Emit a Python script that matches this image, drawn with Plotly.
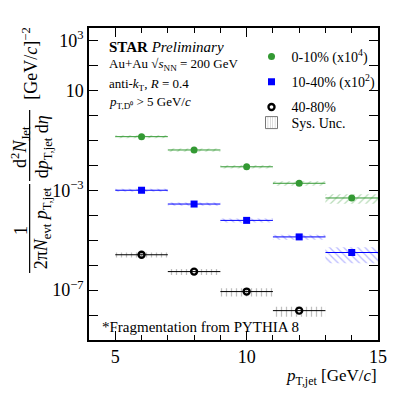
import plotly.graph_objects as go

# jet pT bins (GeV/c)
pt = [6, 8, 10, 12, 14]
pt_halfwidth = [1, 1, 1, 1, 1]

# 0-10% (x10^4)
y_0_10 = [0.14, 0.041, 0.0087, 0.0019, 4.9e-4]
sys_0_10 = [0.02, 0.006, 0.0013, 0.0004, 2.0e-4]

# 10-40% (x10^2)
y_10_40 = [1.0e-3, 2.8e-4, 6.2e-5, 1.35e-5, 3.2e-6]
sys_10_40 = [1.4e-4, 4.0e-5, 1.1e-5, 3.0e-6, 2.0e-6]

# 40-80%
pt_40_80 = [6, 8, 10, 12]
y_40_80 = [2.6e-6, 5.5e-7, 8.7e-8, 1.5e-8]
sys_40_80 = [6.0e-7, 1.5e-7, 3.2e-8, 6.5e-9]

ytick_vals = [1e3, 10, 1e-3, 1e-7]
ytick_text = ["10<sup>3</sup>", "10", "10<sup>\u22123</sup>", "10<sup>\u22127</sup>"]
ydecades = [10.0 ** k for k in range(-9, 4)]

GREEN = "#339933"
BLUE = "#0000ff"
BLACK = "#000000"
FONT = "Liberation Serif"

# the page body keeps its default 8px margin, so the figure sits at (8, 8)
OFF = 8
W, H = 407 - 2 * OFF, 396 - 2 * OFF
# frame in page pixels: x 89..386, y 28..340
ML, MT = 89 - OFF, 28 - OFF
MR, MB = (OFF + W) - 386, (OFF + H) - 340
PW, PH = W - ML - MR, H - MT - MB


def px(x):
    return (x - 89) / PW


def py(y):
    return (340 - y) / PH


fig = go.Figure()

# systematic boxes
series = [
    (pt, y_0_10, sys_0_10, "rgba(51,153,51,0.7)", "/"),
    (pt, y_10_40, sys_10_40, "rgba(0,0,255,0.55)", "\\"),
    (pt_40_80, y_40_80, sys_40_80, "rgba(0,0,0,0.5)", "|"),
]
for xs, ys, ss, col, shp in series:
    fig.add_trace(go.Bar(
        x=xs, y=[2 * s for s in ss], base=[v - s for v, s in zip(ys, ss)],
        width=[2 * w for w in pt_halfwidth[:len(xs)]],
        marker=dict(color="rgba(0,0,0,0)", line=dict(width=0),
                    pattern=dict(shape=shp, fgcolor=col, size=5, solidity=0.25,
                                 fillmode="overlay")),
        showlegend=False, hoverinfo="skip",
    ))

# data points with bin-width bars
pts = [
    (pt, y_0_10, GREEN, dict(symbol="circle", size=7, color=GREEN), "0-10% (x10<sup>4</sup>)"),
    (pt, y_10_40, BLUE, dict(symbol="square", size=7, color=BLUE), "10-40% (x10<sup>2</sup>)"),
    (pt_40_80, y_40_80, BLACK,
     dict(symbol="circle-open", size=6, color=BLACK, line=dict(width=2.4)), "40-80%"),
]
for xs, ys, col, mk, name in pts:
    fig.add_trace(go.Scatter(
        x=xs, y=ys, mode="markers", name=name, legendgroup=name,
        marker=mk,
        error_x=dict(type="data", array=pt_halfwidth[:len(xs)], width=0,
                     thickness=1, color=col),
    ))

# legend-only entry for the systematics, in its own legend box
fig.add_trace(go.Bar(
    x=[None], y=[None], name="Sys. Unc.", legend="legend2",
    marker=dict(color="white", line=dict(width=1, color="#777777"),
                pattern=dict(shape="|", fgcolor="#999999", size=3, solidity=0.3)),
))

# y-axis title built as stacked fractions
ann = []
rot = dict(textangle=-90, xref="paper", yref="paper", showarrow=False,
           xanchor="center", yanchor="middle", font=dict(family=FONT, size=18, color="black"))
ann.append(dict(text="[GeV/<i>c</i>]<sup>\u22122</sup>", x=px(28), y=py(64), **rot))
ann.append(dict(text="d<sup>2</sup><i>N</i><sub>Jet</sub>", x=px(18), y=py(147), **rot))
ann.append(dict(text="d<i>p</i><sub>T,jet</sub> d<i>\u03b7</i>", x=px(42), y=py(147), **rot))
ann.append(dict(text="1", x=px(19), y=py(230), **rot))
ann.append(dict(text="2\u03c0<i>N</i><sub>evt</sub> <i>p</i><sub>T,jet</sub>", x=px(42), y=py(228), **rot))
shapes = [
    dict(type="line", xref="paper", yref="paper", x0=px(28), x1=px(28), y0=py(110), y1=py(181),
         line=dict(color="black", width=1.2)),
    dict(type="line", xref="paper", yref="paper", x0=px(28), x1=px(28), y0=py(184), y1=py(273),
         line=dict(color="black", width=1.2)),
]

# x-axis title
ann.append(dict(text="<i>p</i><sub>T,jet</sub> [GeV/<i>c</i>]", x=px(387), y=py(377),
                xref="paper", yref="paper", showarrow=False, xanchor="right", yanchor="middle",
                font=dict(family=FONT, size=17, color="black")))

# labels inside the frame
txt = dict(xref="paper", yref="paper", showarrow=False, xanchor="left", yanchor="middle",
           font=dict(family=FONT, size=13, color="black"))
ann.append(dict(text="<b>STAR</b> <i>Preliminary</i>", x=px(108), y=py(47),
                **{**txt, "font": dict(family=FONT, size=15, color="black")}))
ann.append(dict(text="Au+Au \u221a<i>s</i><sub>NN</sub> = 200 GeV", x=px(107), y=py(64), **txt))
ann.append(dict(text="anti-<i>k</i><sub>T</sub>, <i>R</i> = 0.4", x=px(107), y=py(84), **txt))
ann.append(dict(text="<i>p</i><sub>T,D\u2070</sub> > 5 GeV/<i>c</i>", x=px(107), y=py(102), **txt))
ann.append(dict(text="*Fragmentation from PYTHIA 8", x=px(100), y=py(327),
                **{**txt, "font": dict(family=FONT, size=15, color="black")}))

legend_common = dict(xanchor="left", yanchor="top", bgcolor="rgba(0,0,0,0)",
                     font=dict(family=FONT, size=14), itemwidth=30)
fig.update_layout(
    width=W, height=H,
    margin=dict(l=ML, r=MR, t=MT, b=MB),
    paper_bgcolor="white", plot_bgcolor="white",
    barmode="overlay",
    font=dict(family=FONT, color="black"),
    annotations=ann, shapes=shapes,
    legend=dict(x=px(256), y=py(41), tracegroupgap=4, **legend_common),
    legend2=dict(x=px(256), y=py(107), **legend_common),
)
fig.update_xaxes(
    range=[4, 15], showgrid=False, zeroline=False,
    showline=True, linecolor="black", linewidth=1.5, mirror="allticks",
    ticks="inside", ticklen=9, tickwidth=1, tickcolor="black",
    tickvals=[5, 10, 15], tickfont=dict(family=FONT, size=18),
    minor=dict(dtick=1, tick0=0, ticks="inside", ticklen=5, tickcolor="black", showgrid=False),
)
fig.update_yaxes(
    type="log", range=[-9, 3.5], showgrid=False, zeroline=False,
    showline=True, linecolor="black", linewidth=1.5, mirror="allticks",
    ticks="inside", ticklen=9, tickwidth=1, tickcolor="black",
    tickvals=ytick_vals, ticktext=ytick_text, tickfont=dict(family=FONT, size=18),
    minor=dict(tickvals=ydecades, ticks="inside", ticklen=9, tickcolor="black", showgrid=False),
)

fig.write_html("out.html")
